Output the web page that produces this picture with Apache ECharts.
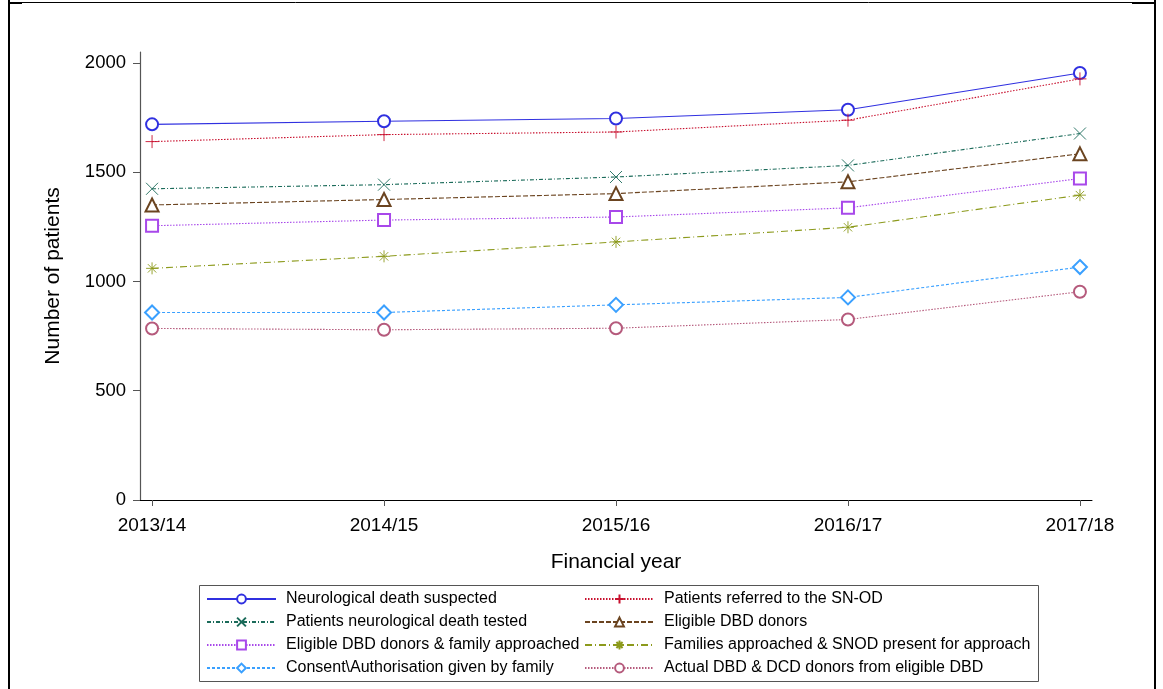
<!DOCTYPE html>
<html>
<head>
<meta charset="utf-8">
<script src="https://cdn.jsdelivr.net/npm/echarts@6/dist/echarts.min.js"></script>
<style>
  html, body { margin: 0; padding: 0; background: #fff; }
  #main { width: 1163px; height: 689px; }
</style>
</head>
<body>
<div id="main"></div>
<script>
// data
var years = ['2013/14', '2014/15', '2015/16', '2016/17', '2017/18'];
var yTicks = [0, 500, 1000, 1500, 2000];

var suspected = [1719, 1733, 1746, 1786, 1954];
var referred = [1640, 1672, 1684, 1738, 1927];
var tested = [1424, 1443, 1478, 1531, 1677];
var eligible = [1350, 1375, 1402, 1456, 1584];
var approached = [1255, 1281, 1295, 1337, 1471];
var snodPresent = [1060, 1115, 1181, 1248, 1395];
var consent = [858, 858, 893, 927, 1066];
var actual = [785, 779, 786, 826, 953];

var names = [
  'Neurological death suspected',
  'Patients referred to the SN-OD',
  'Patients neurological death tested',
  'Eligible DBD donors',
  'Eligible DBD donors & family approached',
  'Families approached & SNOD present for approach',
  'Consent\\Authorisation given by family',
  'Actual DBD & DCD donors from eligible DBD'
];

var myChart = echarts.init(document.getElementById('main'));

var FONT = '"Liberation Sans", Arial, sans-serif';

function pts(arr) {
  return arr.map(function (v, i) { return [i, v]; });
}

function mkSeries(name, data, color, dash, symbol, size) {
  return {
    name: name,
    type: 'line',
    data: pts(data),
    symbol: symbol,
    symbolSize: size,
    showAllSymbol: true,
    color: color,
    lineStyle: { color: color, width: 1.1, type: dash },
    itemStyle: { color: color, borderColor: color, borderWidth: 0.9 },
    emphasis: { disabled: true },
    animation: false
  };
}

var plus = 'path://M5,0L5,10M0,5L10,5';
var cross = 'path://M0,0L10,10M10,0L0,10';
var star = 'path://M5,0L5,10M0,5L10,5M1.5,1.5L8.5,8.5M8.5,1.5L1.5,8.5';

var series = [
  mkSeries(names[0], suspected, '#3030e0', 'solid', 'emptyCircle', 12),
  mkSeries(names[1], referred, '#c8102e', [1.5, 1.5], plus, 13),
  mkSeries(names[2], tested, '#1b6b5a', [4, 2, 1, 2], cross, 12),
  mkSeries(names[3], eligible, '#6b4420', [5, 2], 'emptyTriangle', 13),
  mkSeries(names[4], approached, '#a848ea', [1.5, 1.5], 'emptyRect', 12),
  mkSeries(names[5], snodPresent, '#8c9a1c', [7, 3, 1, 3], star, 12),
  mkSeries(names[6], consent, '#3aa0ff', [3, 2], 'emptyDiamond', 14),
  mkSeries(names[7], actual, '#b55a7c', [1.5, 1.5], 'emptyCircle', 12)
];

var legendCommon = {
  orient: 'vertical',
  top: 591,
  padding: 0,
  itemWidth: 69,
  itemHeight: 11,
  itemGap: 7,
  selectedMode: false,
  textStyle: { fontSize: 16, color: '#000', fontFamily: FONT, padding: [0, 0, 0, 5] }
};

option = {
  backgroundColor: '#fff',
  textStyle: { fontFamily: FONT },
  grid: { left: 140, right: 71, top: 52, bottom: 189 },
  legend: [
    Object.assign({}, legendCommon, { left: 206, data: [names[0], names[2], names[4], names[6]] }),
    Object.assign({}, legendCommon, { left: 584, data: [names[1], names[3], names[5], names[7]] })
  ],
  xAxis: {
    type: 'value',
    min: -0.052,
    max: 4.052,
    name: 'Financial year',
    nameLocation: 'middle',
    nameGap: 52,
    nameTextStyle: { fontSize: 21, color: '#000', fontFamily: FONT },
    axisLine: { show: true, onZero: false, lineStyle: { color: '#000', width: 1 } },
    axisTick: { show: true, length: 6, customValues: [0, 1, 2, 3, 4], lineStyle: { color: '#555' } },
    axisLabel: {
      customValues: [0, 1, 2, 3, 4],
      margin: 16,
      fontSize: 19,
      color: '#000',
      formatter: function (v) { return years[Math.round(v)]; }
    },
    splitLine: { show: false }
  },
  yAxis: {
    type: 'value',
    min: 0,
    max: 2050,
    name: 'Number of patients',
    nameLocation: 'middle',
    nameGap: 76,
    nameTextStyle: { fontSize: 21, color: '#000', fontFamily: FONT },
    axisLine: { show: true, onZero: false, lineStyle: { color: '#555', width: 1.2 } },
    axisTick: { show: true, length: 7, customValues: yTicks, lineStyle: { color: '#555' } },
    axisLabel: {
      customValues: yTicks,
      margin: 14,
      fontSize: 18.5,
      color: '#000',
      formatter: function (v) { return String(v); }
    },
    splitLine: { show: false }
  },
  graphic: [
    // legend box
    { type: 'rect', left: 197, top: 583, shape: { width: 839, height: 96 },
      style: { fill: 'none', stroke: '#555', lineWidth: 1 }, z: 0 },
    // outer frame
    { type: 'line', shape: { x1: 9, y1: 0, x2: 9, y2: 689 }, style: { stroke: '#000', lineWidth: 2 } },
    { type: 'line', shape: { x1: 1155, y1: 0, x2: 1155, y2: 689 }, style: { stroke: '#000', lineWidth: 2 } },
    { type: 'line', shape: { x1: 9, y1: 2.5, x2: 1155, y2: 2.5 }, style: { stroke: '#000', lineWidth: 1 } },
    { type: 'line', shape: { x1: 9, y1: 3, x2: 22, y2: 3 }, style: { stroke: '#000', lineWidth: 2 } },
    { type: 'line', shape: { x1: 1132, y1: 3, x2: 1155, y2: 3 }, style: { stroke: '#000', lineWidth: 2 } }
  ],
  series: series
};

myChart.setOption(option);
</script>
</body>
</html>
